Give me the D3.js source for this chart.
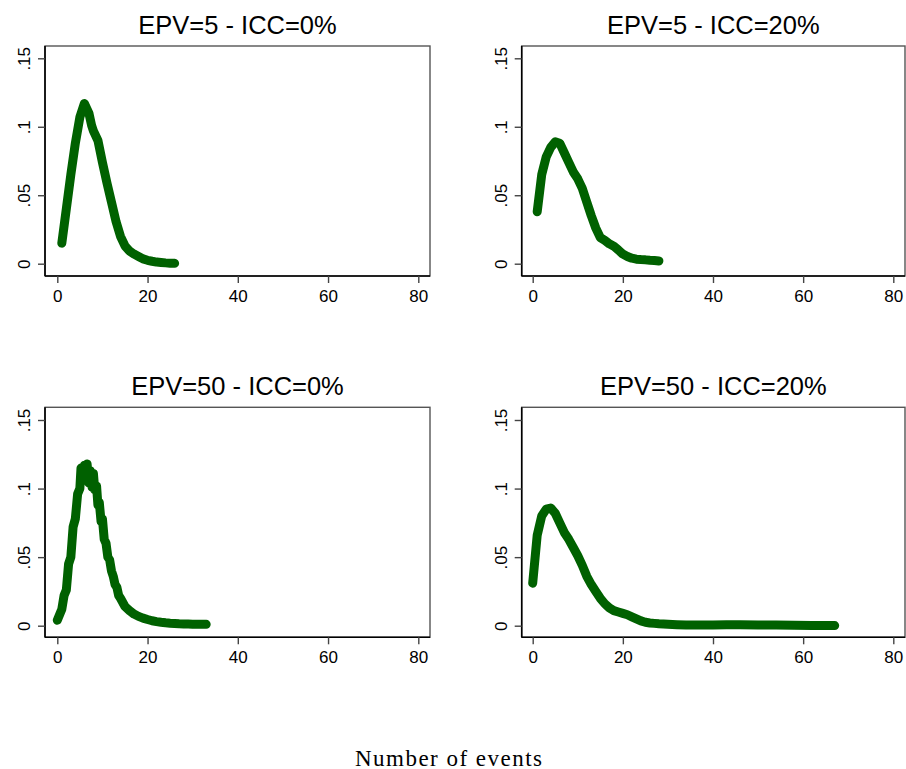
<!DOCTYPE html>
<html>
<head>
<meta charset="utf-8">
<script src="https://cdn.jsdelivr.net/npm/d3@7"></script>
<style>
  html, body { margin: 0; padding: 0; background: #fff; }
  svg { display: block; }
</style>
</head>
<body>
<svg id="chart" width="906" height="769"></svg>
<script>
// ---------------- data ----------------
const panelTitles = ["EPV=5 - ICC=0%", "EPV=5 - ICC=20%", "EPV=50 - ICC=0%", "EPV=50 - ICC=20%"];
const xTicks = [0, 20, 40, 60, 80];
const yTicks = [0, 0.05, 0.1, 0.15];
const yTickLabels = ["0", ".05", ".1", ".15"];
const xAxisLabel = "Number of events";

const epv5icc0X = [1,2,3,4,5,6,7,7.6,8,9,10,11,12,13,14,15,16,17,18,19,20,21,22,23,24,25,26];
const epv5icc0Y = [0.015,0.040,0.065,0.088,0.107,0.117,0.110,0.101,0.097,0.090,0.074,0.059,0.045,0.031,0.020,0.013,0.0093,0.007,0.0053,0.0035,0.0025,0.0018,0.0012,0.0009,0.0006,0.0004,0.0003];

const epv5icc20X = [1,2,3,4,5,6,7,8,9,10,11,12,13,14,15,16,17,18,19,20,21,22,23,24,25,26,27,28];
const epv5icc20Y = [0.038,0.065,0.078,0.085,0.089,0.088,0.081,0.074,0.067,0.062,0.055,0.045,0.035,0.026,0.019,0.017,0.0145,0.0128,0.010,0.007,0.0053,0.004,0.0033,0.003,0.0028,0.0025,0.0023,0.002];

const epv50icc0X = [0,0.5,1,1.5,2,2.5,3,3.5,4,4.5,5,5.25,5.6,6,6.3,6.6,7,7.3,7.7,8,8.3,8.7,9,9.3,9.7,10,10.4,10.8,11.2,11.6,12,12.4,12.8,13.2,13.6,14,15,16,17,18,19,20,21,22,23,24,25,26,27,28,29,30,31,32,33];
const epv50icc0Y = [0.004,0.008,0.012,0.022,0.026,0.045,0.050,0.072,0.078,0.096,0.100,0.115,0.106,0.117,0.107,0.118,0.104,0.113,0.101,0.111,0.099,0.102,0.088,0.090,0.076,0.078,0.063,0.060,0.050,0.048,0.040,0.036,0.030,0.028,0.022,0.020,0.014,0.011,0.0085,0.0068,0.0055,0.0045,0.0036,0.003,0.0025,0.0021,0.0018,0.0016,0.0014,0.0013,0.0012,0.0011,0.001,0.001,0.001];

const epv50icc20X = [0,1,2,3,4,5,6,7,8,9,10,11,12,13,14,15,16,17,18,19,20,21,22,23,24,25,26,27,28,29,30,32,34,36,38,40,43,46,50,54,58,62,67];
const epv50icc20Y = [0.031,0.066,0.080,0.085,0.0858,0.082,0.075,0.068,0.063,0.057,0.051,0.044,0.036,0.030,0.025,0.020,0.016,0.013,0.011,0.010,0.009,0.008,0.0065,0.005,0.0035,0.0025,0.002,0.0017,0.0014,0.0012,0.001,0.0007,0.0005,0.0005,0.0006,0.0006,0.0007,0.0007,0.0006,0.0005,0.0003,0.0002,0.0001];

const seriesX = [epv5icc0X, epv5icc20X, epv50icc0X, epv50icc20X];
const seriesY = [epv5icc0Y, epv5icc20Y, epv50icc0Y, epv50icc20Y];

// ---------------- layout ----------------
const cols = [
  { left: 45, right: 430, x0: 57.3, x80: 418.3 },
  { left: 521.7, right: 905, x0: 532.7, x80: 893.3 }
];
const rows = [
  { top: 46, bottom: 276, y0: 263.7, y15: 58.3, titleY: 33.5 },
  { top: 407.3, bottom: 637.3, y0: 625.7, y15: 420, titleY: 395 }
];
const lineColor = "#006100";
const sansFont = "'Liberation Sans', Arial, Helvetica, sans-serif";

const svg = d3.select("#chart");
svg.append("rect").attr("width", 906).attr("height", 769).attr("fill", "#fff");

panelTitles.forEach((title, i) => {
  const c = cols[i % 2], r = rows[Math.floor(i / 2)];
  const x = d3.scaleLinear().domain([0, 80]).range([c.x0, c.x80]);
  const y = d3.scaleLinear().domain([0, 0.15]).range([r.y0, r.y15]);
  const g = svg.append("g");

  // plot frame
  g.append("rect")
    .attr("x", c.left).attr("y", r.top)
    .attr("width", c.right - c.left).attr("height", r.bottom - r.top)
    .attr("fill", "none").attr("stroke", "#555").attr("stroke-width", 1.4);

  // y axis
  const ya = g.append("g").attr("transform", `translate(${c.left},0)`)
    .call(d3.axisLeft(y).tickValues(yTicks).tickSize(7).tickFormat((d, k) => yTickLabels[k]));
  ya.select(".domain").attr("stroke", "#000").attr("stroke-width", 1.6).attr("d", `M0,${r.top}V${r.bottom}`);
  ya.selectAll(".tick line").attr("stroke", "#444").attr("stroke-width", 1.4);
  ya.selectAll(".tick text")
    .attr("transform", "rotate(-90)")
    .attr("x", 0).attr("y", -15).attr("dy", 0)
    .attr("text-anchor", "middle")
    .attr("fill", "#000")
    .style("font-family", sansFont).style("font-size", "17px");

  // x axis
  const xa = g.append("g").attr("transform", `translate(0,${r.bottom})`)
    .call(d3.axisBottom(x).tickValues(xTicks).tickSize(7).tickFormat(d3.format("d")));
  xa.select(".domain").attr("stroke", "#000").attr("stroke-width", 1.6).attr("d", `M${c.left},0H${c.right}`);
  xa.selectAll(".tick line").attr("stroke", "#444").attr("stroke-width", 1.4);
  xa.selectAll(".tick text")
    .attr("y", 25.7).attr("dy", 0)
    .attr("fill", "#000")
    .style("font-family", sansFont).style("font-size", "17px");

  // title
  g.append("text")
    .attr("x", (c.left + c.right) / 2).attr("y", r.titleY)
    .attr("text-anchor", "middle")
    .style("font-family", sansFont).style("font-size", "25.5px")
    .attr("fill", "#000")
    .text(title);

  // series line
  const pts = seriesX[i].map((xv, k) => [xv, seriesY[i][k]]);
  g.append("path")
    .datum(pts)
    .attr("fill", "none")
    .attr("stroke", lineColor)
    .attr("stroke-width", 9)
    .attr("stroke-linecap", "round")
    .attr("stroke-linejoin", "round")
    .attr("d", d3.line().x(d => x(d[0])).y(d => y(d[1])));
});

// common x-axis label
svg.append("text")
  .attr("x", 448.5).attr("y", 765.5)
  .attr("text-anchor", "middle")
  .style("font-family", "'Liberation Serif', 'Times New Roman', serif")
  .style("font-size", "23px")
  .attr("textLength", 187).attr("lengthAdjust", "spacing")
  .attr("fill", "#000")
  .text(xAxisLabel);
</script>
</body>
</html>
